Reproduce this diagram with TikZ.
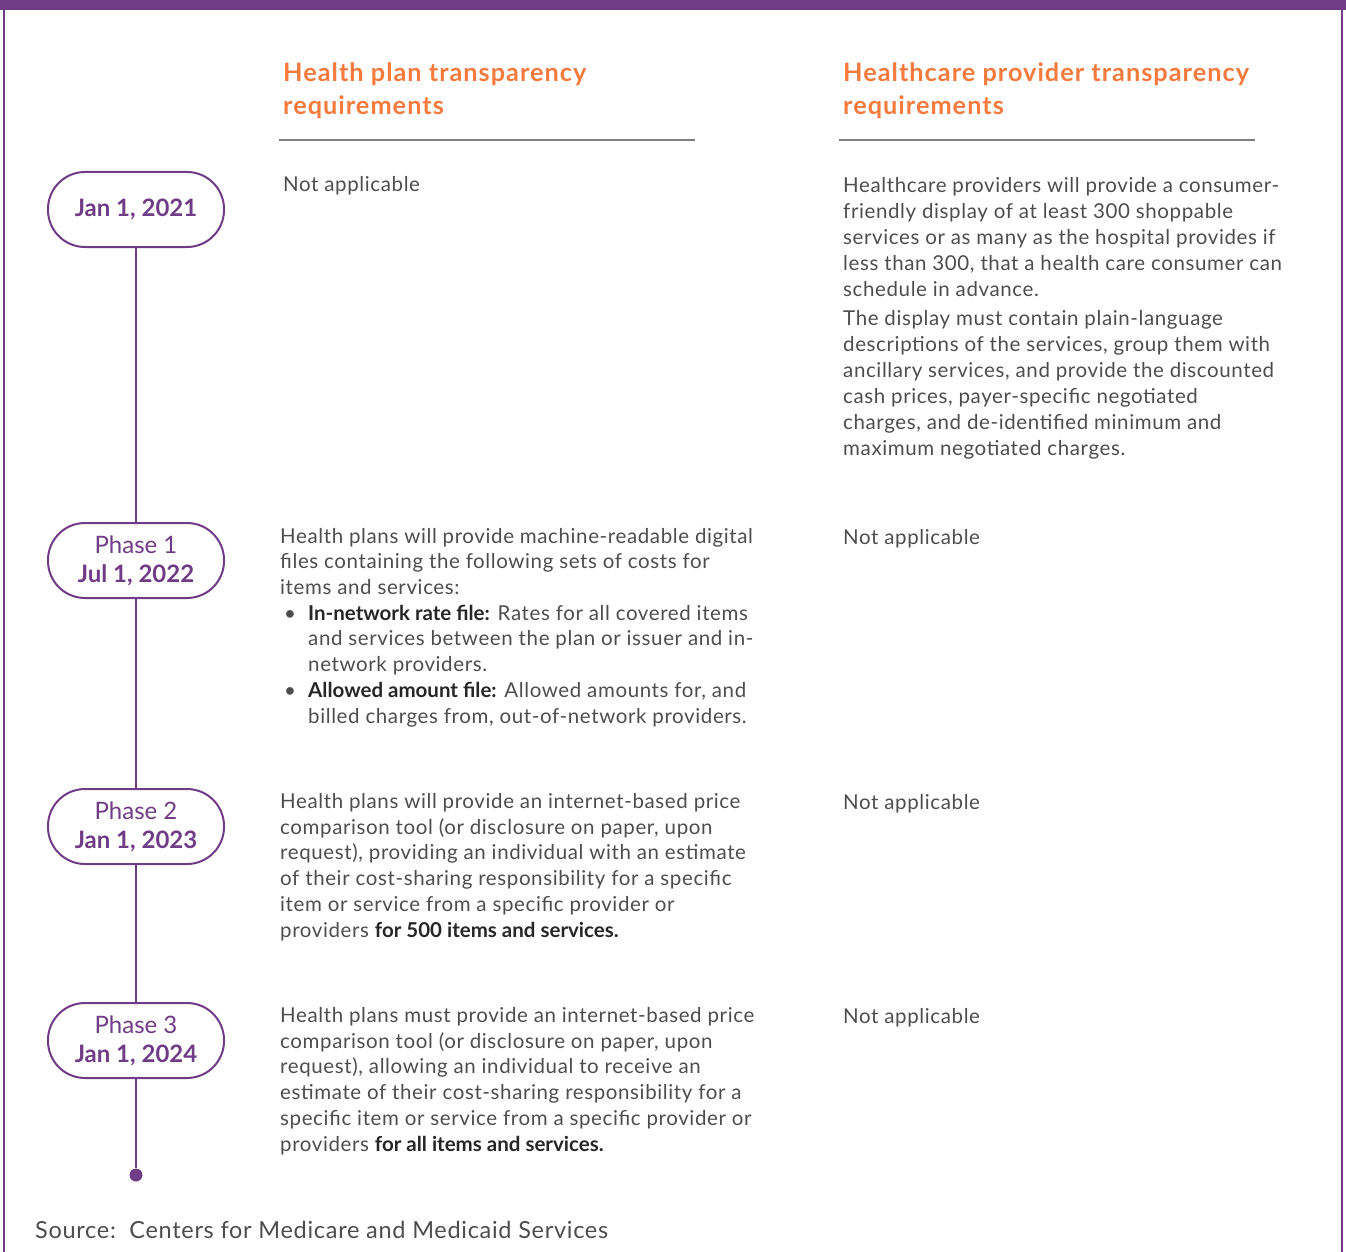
\documentclass[tikz,border=0pt]{standalone}
\usepackage{fontspec}
\setmainfont{Lato}
\newfontfamily\bodyfont{Lato}[LetterSpace=3]
\newfontfamily\headfont{Lato}[LetterSpace=4]
\usetikzlibrary{positioning}

\definecolor{kfpurple}{HTML}{6F3C85}
\definecolor{kforange}{HTML}{F47A3D}
\definecolor{kftext}{HTML}{4D4D4D}
\definecolor{kfbold}{HTML}{262626}
\definecolor{kfrule}{HTML}{7F7F7F}

% bold run inside body text
\newcommand{\hl}[1]{{\rmfamily\bfseries\color{kfbold}#1}}
\newcommand{\bul}{\hspace*{4pt}\makebox[24pt][l]{\textbullet}}
\newcommand{\ind}{\hspace*{28pt}}

\begin{document}
\begin{tikzpicture}[x=1pt,y=-1pt,
    pill/.style={draw=kfpurple,line width=2pt,rounded corners=37pt,
      minimum width=176pt,minimum height=75pt,text=kfpurple,align=center,
      font=\fontsize{24}{29}\selectfont},
    colhead/.style={anchor=base west,inner sep=0pt,text=kforange,align=left,
      font=\headfont\fontsize{25.3}{33}\selectfont\bfseries},
    body/.style={anchor=base west,inner sep=0pt,text=kftext,align=left,
      font=\bodyfont\fontsize{20.5}{25.7}\selectfont},
    headrule/.style={draw=kfrule,line width=1.5pt}]

  \useasboundingbox (0,0) rectangle (1346,1252);

  % frame
  \fill[kfpurple] (0,0) rectangle (1346,10);
  \draw[kfpurple,line width=2pt] (4,0) -- (4,1252);
  \draw[kfpurple,line width=2pt] (1342,0) -- (1342,1252);

  % column heads (placed by the baseline of their last line)
  \node (planhead) [colhead] at (283,115) {Health plan transparency\\requirements};
  \node (provhead) [colhead] at (843,115) {Healthcare provider transparency\\requirements};
  \draw[headrule] (279,140) -- (695,140);
  \draw[headrule] (839,140) -- (1255,140);

  % timeline
  \begin{scope}
    \node (d2021) [pill] at (136,209.5) {\bfseries Jan 1, 2021};
    \node (ph1) [pill] at (136,560.5) {Phase 1\\\bfseries Jul 1, 2022};
    \node (ph2) [pill] at (136,826.5) {Phase 2\\\bfseries Jan 1, 2023};
    \node (ph3) [pill] at (136,1040.5) {Phase 3\\\bfseries Jan 1, 2024};
    \node (tend) [circle,fill=kfpurple,inner sep=0pt,minimum size=13pt] at (136,1175) {};
  \end{scope}

  \begin{scope}[color=kfpurple,line width=2pt]
    \path (d2021) edge (ph1);
    \path (ph1) edge (ph2);
    \path (ph2) edge (ph3);
    \path (ph3) edge (tend);
  \end{scope}

  % Jan 2021
  \node (plan2021) [body] at (283,192) {Not applicable};
  \node (prov2021) [body,font=\bodyfont\fontsize{20.5}{26}\selectfont] at (843,455) {Healthcare providers will provide a consumer-\\
    friendly display of at least 300 shoppable\\
    services or as many as the hospital provides if\\
    less than 300, that a health care consumer can\\
    schedule in advance.\\[3pt]
    The display must contain plain-language\\
    descriptions of the services, group them with\\
    ancillary services, and provide the discounted\\
    cash prices, payer-specific negotiated\\
    charges, and de-identified minimum and\\
    maximum negotiated charges.};

  % Phase 1
  \node (plan1) [body] at (280,723) {Health plans will provide machine-readable digital\\
    files containing the following sets of costs for\\
    items and services:\\
    \bul\hl{In-network rate file:} Rates for all covered items\\
    \ind and services between the plan or issuer and in-\\
    \ind network providers.\\
    \bul\hl{Allowed amount file:} Allowed amounts for, and\\
    \ind billed charges from, out-of-network providers.};
  \node (prov1) [body] at (843,544) {Not applicable};

  % Phase 2
  \node (plan2) [body] at (280,937) {Health plans will provide an internet-based price\\
    comparison tool (or disclosure on paper, upon\\
    request), providing an individual with an estimate\\
    of their cost-sharing responsibility for a specific\\
    item or service from a specific provider or\\
    providers \hl{for 500 items and services.}};
  \node (prov2) [body] at (843,809) {Not applicable};

  % Phase 3
  \node (plan3) [body] at (280,1151) {Health plans must provide an internet-based price\\
    comparison tool (or disclosure on paper, upon\\
    request), allowing an individual to receive an\\
    estimate of their cost-sharing responsibility for a\\
    specific item or service from a specific provider or\\
    providers \hl{for all items and services.}};
  \node (prov3) [body] at (843,1023) {Not applicable};

  % source line
  \node (source) [body,font=\bodyfont\fontsize{23.5}{26}\selectfont] at (35,1238) {Source:\ \ Centers for Medicare and Medicaid Services};
\end{tikzpicture}
\end{document}
